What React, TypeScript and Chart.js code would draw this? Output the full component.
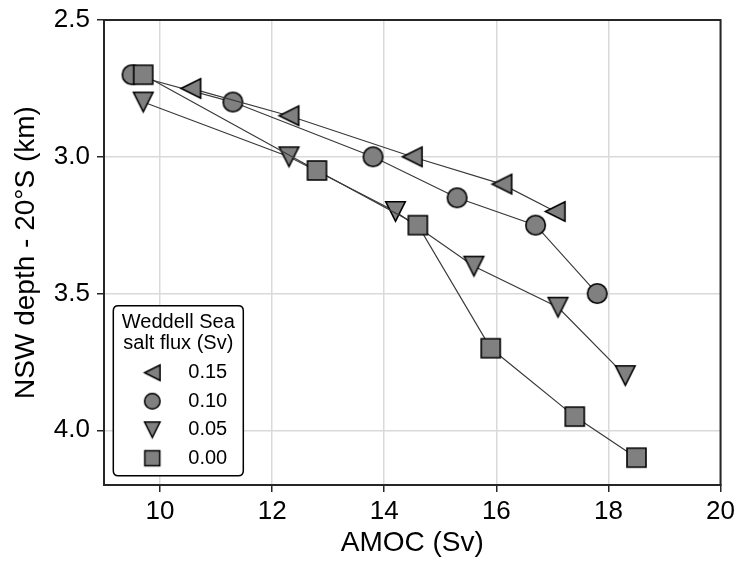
import React, { useEffect, useRef } from "react";
import { Chart, registerables } from "chart.js";

Chart.register(...registerables);

// ---- data ----
const xTicks = [10, 12, 14, 16, 18, 20];
const yTicks = [2.5, 3.0, 3.5, 4.0];

const legendTitle = ["Weddell Sea", "salt flux (Sv)"];
const legendLabels = ["0.15", "0.10", "0.05", "0.00"];

const amoc015 = [10.55, 12.3, 14.5, 16.1, 17.05];
const depth015 = [2.75, 2.85, 3.0, 3.1, 3.2];

const amoc010 = [9.5, 11.3, 13.8, 15.3, 16.7, 17.8];
const depth010 = [2.7, 2.8, 3.0, 3.15, 3.25, 3.5];

const amoc005 = [9.7, 12.3, 14.2, 15.6, 17.1, 18.3];
const depth005 = [2.8, 3.0, 3.2, 3.4, 3.55, 3.8];

const amoc000 = [9.7, 12.8, 14.6, 15.9, 17.4, 18.5];
const depth000 = [2.7, 3.05, 3.25, 3.7, 3.95, 4.1];

const FONT = "'Liberation Sans', Arial, Helvetica, sans-serif";

type Shape = "left" | "circle" | "down" | "square";

function makeMarker(shape: Shape, size: number, lw: number): HTMLCanvasElement {
  const dim = Math.ceil(size + lw * 2 + 6);
  const c = document.createElement("canvas");
  c.width = dim;
  c.height = dim;
  const ctx = c.getContext("2d")!;
  const cx = dim / 2;
  const cy = dim / 2;
  const h = size / 2;
  ctx.beginPath();
  if (shape === "circle") {
    ctx.arc(cx, cy, h, 0, Math.PI * 2);
  } else if (shape === "square") {
    ctx.rect(cx - h, cy - h, size, size);
  } else if (shape === "left") {
    ctx.moveTo(cx - h, cy);
    ctx.lineTo(cx + h, cy - h);
    ctx.lineTo(cx + h, cy + h);
    ctx.closePath();
  } else {
    ctx.moveTo(cx, cy + h);
    ctx.lineTo(cx - h, cy - h);
    ctx.lineTo(cx + h, cy - h);
    ctx.closePath();
  }
  ctx.fillStyle = "#808080";
  ctx.fill();
  ctx.lineWidth = lw;
  ctx.lineJoin = "miter";
  ctx.strokeStyle = "#000";
  ctx.stroke();
  return c;
}

function pts(xs: number[], ys: number[]) {
  return xs.map((x, i) => ({ x, y: ys[i] }));
}

export default function App() {
  const ref = useRef<HTMLCanvasElement>(null);

  useEffect(() => {
    if (!ref.current) return;
    const mk = {
      left: makeMarker("left", 19.5, 1.6),
      circle: makeMarker("circle", 19.5, 1.6),
      down: makeMarker("down", 19.5, 1.6),
      square: makeMarker("square", 19, 1.6),
    };
    const legendMarkers = [
      makeMarker("left", 15.5, 1.5),
      makeMarker("circle", 15.5, 1.5),
      makeMarker("down", 15.5, 1.5),
      makeMarker("square", 15, 1.5),
    ];

    const framePlugin = {
      id: "frame",
      afterDatasetsDraw(chart: any) {
        const { ctx, chartArea: a } = chart;
        ctx.save();
        ctx.strokeStyle = "#262626";
        ctx.lineWidth = 2;
        ctx.strokeRect(a.left, a.top, a.right - a.left, a.bottom - a.top);
        ctx.restore();
      },
    };

    const legendPlugin = {
      id: "wsLegend",
      afterDraw(chart: any) {
        const { ctx, chartArea: a } = chart;
        const bw = 130;
        const bh = 170;
        const bx = a.left + 9.3;
        const by = a.bottom - 9.3 - bh;
        ctx.save();
        ctx.beginPath();
        const r = 5;
        ctx.moveTo(bx + r, by);
        ctx.lineTo(bx + bw - r, by);
        ctx.quadraticCurveTo(bx + bw, by, bx + bw, by + r);
        ctx.lineTo(bx + bw, by + bh - r);
        ctx.quadraticCurveTo(bx + bw, by + bh, bx + bw - r, by + bh);
        ctx.lineTo(bx + r, by + bh);
        ctx.quadraticCurveTo(bx, by + bh, bx, by + bh - r);
        ctx.lineTo(bx, by + r);
        ctx.quadraticCurveTo(bx, by, bx + r, by);
        ctx.closePath();
        ctx.fillStyle = "#ffffff";
        ctx.fill();
        ctx.lineWidth = 1.5;
        ctx.strokeStyle = "#000";
        ctx.stroke();

        ctx.font = `20px ${FONT}`;
        ctx.fillStyle = "#000";
        ctx.textBaseline = "middle";
        ctx.textAlign = "center";
        legendTitle.forEach((t, i) => {
          ctx.fillText(t, bx + bw / 2, by + 17 + i * 20.8);
        });
        ctx.textAlign = "left";
        legendLabels.forEach((lab, i) => {
          const y = by + 67 + i * 28.5;
          const m = legendMarkers[i];
          ctx.drawImage(m, bx + 39 - m.width / 2, y - m.height / 2);
          ctx.fillText(lab, bx + 75, y);
        });
        ctx.restore();
      },
    };

    const lineStyle = {
      showLine: true,
      borderColor: "#3a3a3a",
      borderWidth: 1.2,
      backgroundColor: "#808080",
      pointRadius: 10,
      pointHoverRadius: 10,
      tension: 0,
    };

    const chart = new Chart(ref.current, {
      type: "scatter",
      data: {
        datasets: [
          { label: "0.15", data: pts(amoc015, depth015), pointStyle: mk.left, ...lineStyle },
          { label: "0.00", data: pts(amoc000, depth000), pointStyle: mk.square, ...lineStyle },
          { label: "0.10", data: pts(amoc010, depth010), pointStyle: mk.circle, ...lineStyle },
          { label: "0.05", data: pts(amoc005, depth005), pointStyle: mk.down, ...lineStyle },
        ],
      },
      options: {
        responsive: false,
        animation: false,
        events: [],
        layout: { padding: { top: 20, right: 20, left: 0, bottom: 0 } },
        plugins: {
          legend: { display: false },
          tooltip: { enabled: false },
        },
        scales: {
          x: {
            type: "linear",
            min: 9,
            max: 20,
            afterBuildTicks: (s: any) => {
              s.ticks = xTicks.map((v) => ({ value: v }));
            },
            afterFit: (s: any) => {
              s.height = 79;
            },
            ticks: {
              autoSkip: false,
              maxRotation: 0,
              padding: 7,
              color: "#000",
              font: { family: FONT, size: 26, lineHeight: 1 },
              callback: (v: any) => String(v),
            },
            grid: {
              color: "#d9d9d9",
              lineWidth: 1.5,
              drawTicks: true,
              tickLength: 7,
              tickColor: "#262626",
              tickWidth: 1.5,
            },
            border: { display: true, color: "#262626", width: 2 },
            title: {
              display: true,
              text: "AMOC (Sv)",
              color: "#000",
              font: { family: FONT, size: 28, lineHeight: 1 },
              padding: { top: 0, bottom: 7 },
            },
          },
          y: {
            type: "linear",
            reverse: true,
            min: 2.5,
            max: 4.2,
            afterBuildTicks: (s: any) => {
              s.ticks = yTicks.map((v) => ({ value: v }));
            },
            afterFit: (s: any) => {
              s.width = 104;
            },
            ticks: {
              autoSkip: false,
              padding: 7,
              color: "#000",
              font: { family: FONT, size: 26, lineHeight: 1 },
              callback: (v: any) => Number(v).toFixed(1),
            },
            grid: {
              color: "#d9d9d9",
              lineWidth: 1.5,
              drawTicks: true,
              tickLength: 7,
              tickColor: "#262626",
              tickWidth: 1.5,
            },
            border: { display: true, color: "#262626", width: 2 },
            title: {
              display: true,
              text: "NSW depth - 20°S (km)",
              color: "#000",
              font: { family: FONT, size: 28, lineHeight: 1 },
              padding: { top: 12, bottom: 0 },
            },
          },
        },
      },
      plugins: [framePlugin, legendPlugin],
    } as any);

    return () => chart.destroy();
  }, []);

  return (
    <div style={{ position: "absolute", left: 0, top: 0, width: 742, height: 564 }}>
      <canvas ref={ref} width={742} height={564} style={{ display: "block" }} />
    </div>
  );
}
